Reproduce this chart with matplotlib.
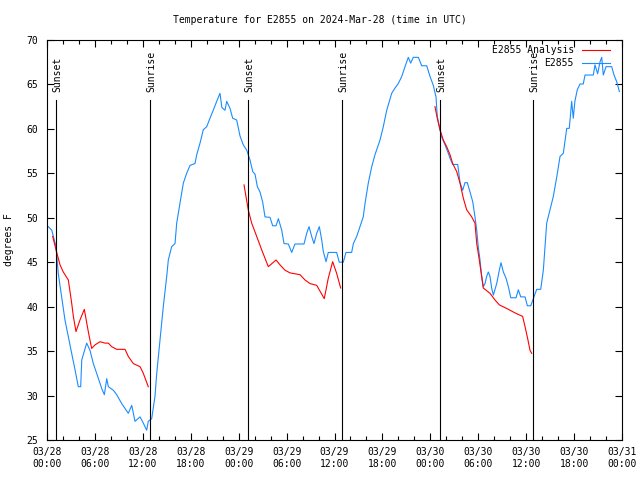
import matplotlib
matplotlib.use("Agg")
import matplotlib.pyplot as plt
from matplotlib.lines import Line2D
import numpy as np

# ---- data (hours since 2024-03-28 00:00 UTC) ----
obs_h = [0.16, 0.6, 1.13, 1.41, 1.84, 2.25, 2.67, 3.09, 3.51, 3.92, 4.22, 4.35, 4.97, 5.38, 5.80,
         6.22, 6.85, 7.18, 7.48, 7.68, 8.30, 8.73, 9.35, 10.18, 10.61, 11.02, 11.65, 12.06,
         12.48, 12.68, 13.11, 13.52, 13.74, 14.15, 14.56, 14.99, 15.19, 15.61, 16.03, 16.24,
         16.65, 17.07, 17.49, 17.91, 18.53, 18.75, 19.16, 19.57, 20.0, 20.41, 20.82, 21.25,
         21.66, 21.9, 22.29, 22.5, 22.92, 23.25, 23.75, 24.17, 24.58, 25.01, 25.42, 25.76,
         26.05, 26.34, 26.67, 27.0, 27.3, 27.92, 28.26, 28.68, 28.97, 29.39, 29.68, 30.22,
         30.64, 31.05, 32.18, 32.52, 32.81, 33.14, 33.43, 33.77, 34.1, 34.4, 34.6, 34.94,
         35.22, 36.27, 36.6, 37.1, 37.44, 38.15, 38.36, 38.78, 39.19, 39.6, 39.82, 40.23,
         40.66, 41.07, 41.7, 42.11, 42.54, 43.16, 43.58, 43.99, 44.42, 44.83, 45.24, 45.54,
         45.87, 46.5, 46.92, 47.55, 47.96, 48.37, 48.71, 48.87, 49.21, 49.42, 49.84, 50.25,
         50.46, 50.8, 51.43, 51.72, 52.05, 52.34, 52.63, 52.97, 53.31, 53.59, 53.81, 54.0,
         54.22, 54.43, 54.63, 54.85, 55.05, 55.26, 55.47, 55.68, 55.89, 56.31, 56.64, 56.85,
         57.14, 57.48, 57.77, 58.07, 58.73, 59.02, 59.32, 59.86, 60.15, 60.57, 60.9, 61.32,
         61.82, 62.15, 62.36, 62.57, 62.99, 63.4, 63.83, 64.24, 64.65, 65.08, 65.4, 65.7,
         65.9, 66.1, 66.4, 66.74, 67.15, 67.37, 68.41, 68.62, 68.95, 69.25, 69.46, 69.66,
         70.0, 70.71, 71.0, 71.34, 71.67]
obs_t = [49.0, 48.6, 46.75, 43.75, 41.1, 38.5, 36.6, 34.75, 32.9, 31.0, 31.0, 34.0, 35.9, 35.1, 33.6,
         32.5, 30.8, 30.1, 31.9, 31.0, 30.6, 30.1, 29.1, 28.0, 28.9, 27.1, 27.6, 26.9,
         26.1, 27.1, 27.4, 29.9, 32.5, 36.25, 40.0, 43.4, 45.25, 46.75, 47.1, 49.4,
         51.6, 53.9, 55.0, 55.9, 56.1, 57.1, 58.4, 59.9, 60.25, 61.2, 62.1, 63.1,
         64.0, 62.4, 62.1, 63.1, 62.3, 61.2, 61.0, 59.2, 58.2, 57.6, 56.5, 55.2,
         54.9, 53.5, 52.9, 51.8, 50.1, 50.05, 49.1, 49.1, 49.9, 48.6, 47.1, 47.05,
         46.1, 47.05, 47.05, 48.25, 49.0, 47.9, 47.1, 48.25, 49.0, 47.5, 46.2, 45.06,
         46.1, 46.1, 45.0, 45.0, 46.1, 46.1, 47.1, 47.9, 49.0, 50.1, 51.6, 53.9,
         55.75, 57.1, 58.75, 60.25, 62.1, 64.0, 64.6, 65.1, 65.9, 67.0, 68.05, 67.4,
         68.05, 68.05, 67.1, 67.1, 65.9, 64.9, 63.6, 61.4, 59.9, 59.1, 58.2, 57.25,
         56.7, 56.0, 56.0, 53.95, 53.1, 53.95, 53.95, 52.9, 51.8, 50.1, 48.6, 46.75,
         45.25, 43.4, 42.25, 42.6, 43.4, 43.9, 43.4, 42.1, 41.3, 42.6, 44.1, 44.95,
         43.9, 43.2, 42.25, 41.0, 41.0, 41.9, 41.1, 41.1, 40.1, 40.1, 40.9, 41.95,
         41.95, 44.1, 46.75, 49.4, 50.9, 52.4, 54.6, 56.9, 57.25, 60.06, 60.06, 63.1,
         61.2, 63.1, 64.4, 65.05, 65.05, 66.06, 66.06, 67.2, 66.2, 67.55, 68.05, 66.06,
         67.0, 67.0, 66.06, 65.3, 64.2]

ana1_h = [0.71, 1.13, 1.63, 2.04, 2.67, 3.09, 3.30, 3.63, 4.13, 4.67, 5.17, 5.59, 6.01, 6.64,
          7.26, 7.68, 8.1, 8.73, 9.77, 10.18, 10.81, 11.65, 12.06, 12.68]
ana1_t = [47.9, 46.4, 44.7, 43.9, 43.0, 40.4, 38.9, 37.2, 38.5, 39.7, 37.2, 35.3, 35.7, 36.06,
          35.9, 35.9, 35.5, 35.2, 35.2, 34.4, 33.6, 33.25, 32.5, 31.0]
ana2_h = [24.67, 25.2, 25.63, 26.26, 26.88, 27.71, 28.68, 29.18, 29.8, 30.43, 31.68, 32.31,
          32.93, 33.77, 34.72, 35.22, 35.77, 36.27, 36.77]
ana2_t = [53.7, 50.9, 49.4, 47.9, 46.4, 44.5, 45.25, 44.7, 44.1, 43.8, 43.6, 43.0,
          42.6, 42.4, 40.9, 43.2, 45.06, 43.75, 42.1]
ana3_h = [48.58, 48.87, 49.21, 49.62, 50.05, 50.46, 50.8, 51.3, 51.72, 52.13, 52.55, 53.18,
          53.59, 53.81, 54.13, 54.43, 54.63, 55.47, 56.1, 56.64, 57.56, 58.6, 59.56, 59.86,
          60.19, 60.48, 60.69]
ana3_t = [62.5, 61.2, 59.9, 58.75, 58.0, 57.1, 56.1, 55.2, 53.9, 52.2, 50.9, 50.1,
          49.4, 47.1, 45.25, 43.4, 42.1, 41.5, 40.75, 40.2, 39.8, 39.3, 38.9, 37.75,
          36.4, 35.1, 34.75]

sun_h = [1.13, 12.9, 25.21, 36.9, 49.25, 60.9]
sun_lbl = ["Sunset", "Sunrise", "Sunset", "Sunrise", "Sunset", "Sunrise"]

xtick_h = list(range(0, 73, 6))
xtick_lbl = ["03/28\n00:00", "03/28\n06:00", "03/28\n12:00", "03/28\n18:00",
             "03/29\n00:00", "03/29\n06:00", "03/29\n12:00", "03/29\n18:00",
             "03/30\n00:00", "03/30\n06:00", "03/30\n12:00", "03/30\n18:00",
             "03/31\n00:00"]
ytick_v = list(range(25, 71, 5))

title = "Temperature for E2855 on 2024-Mar-28 (time in UTC)"

# ---- styling ----
FONT = "DejaVu Sans Mono"
FS = 7
plt.rcParams['font.family'] = [FONT]
plt.rcParams['font.size'] = FS

BLUE = "#1a8cff"
RED = "#ff0000"

fig = plt.figure(figsize=(6.4, 4.8), dpi=100)
ax = fig.add_axes([47/640, 1-440/480, 575/640, 400/480])

ax.plot(obs_h, obs_t, color=BLUE, lw=0.8)
for hh, tt in ((ana1_h, ana1_t), (ana2_h, ana2_t), (ana3_h, ana3_t)):
    ax.plot(hh, tt, color=RED, lw=0.8)

for h, lbl in zip(sun_h, sun_lbl):
    ax.plot([h, h], [25, 63.25], color="black", lw=0.8)
    ax.text(h + 0.15, 64.1, lbl, rotation=90, ha="center", va="bottom", fontsize=FS)

ax.set_xlim(0, 72)
ax.set_ylim(25, 70)
ax.set_xticks(xtick_h)
ax.set_xticklabels(xtick_lbl)
ax.set_xticks(list(range(0, 73, 2)), minor=True)
ax.set_yticks(ytick_v)
ax.set_yticklabels([str(v) for v in ytick_v])
ax.tick_params(which="both", direction="in", top=True, right=True, width=0.8, labelsize=FS)
ax.tick_params(which="major", length=5, pad=5)
ax.tick_params(which="minor", length=3)
ax.tick_params(axis="y", pad=6.5)
for s in ax.spines.values():
    s.set_linewidth(0.8)

ax.set_ylabel("degrees F", fontsize=FS)
ax.yaxis.set_label_coords(-0.057, 0.5)

fig.text(0.5, 1 - 20/480, title, ha="center", va="center", fontsize=FS)

# legend (right-aligned labels, key line to the right)
leg_items = [("E2855 Analysis", RED), ("E2855", BLUE)]
for i, (lbl, col) in enumerate(leg_items):
    y = 0.975 - i * 0.032
    ax.text(0.9165, y, lbl, transform=ax.transAxes, ha="right", va="center", fontsize=FS)
    ax.add_line(Line2D([0.930, 0.979], [y, y], transform=ax.transAxes, color=col, lw=0.8))

fig.savefig("out.png", dpi=100)
